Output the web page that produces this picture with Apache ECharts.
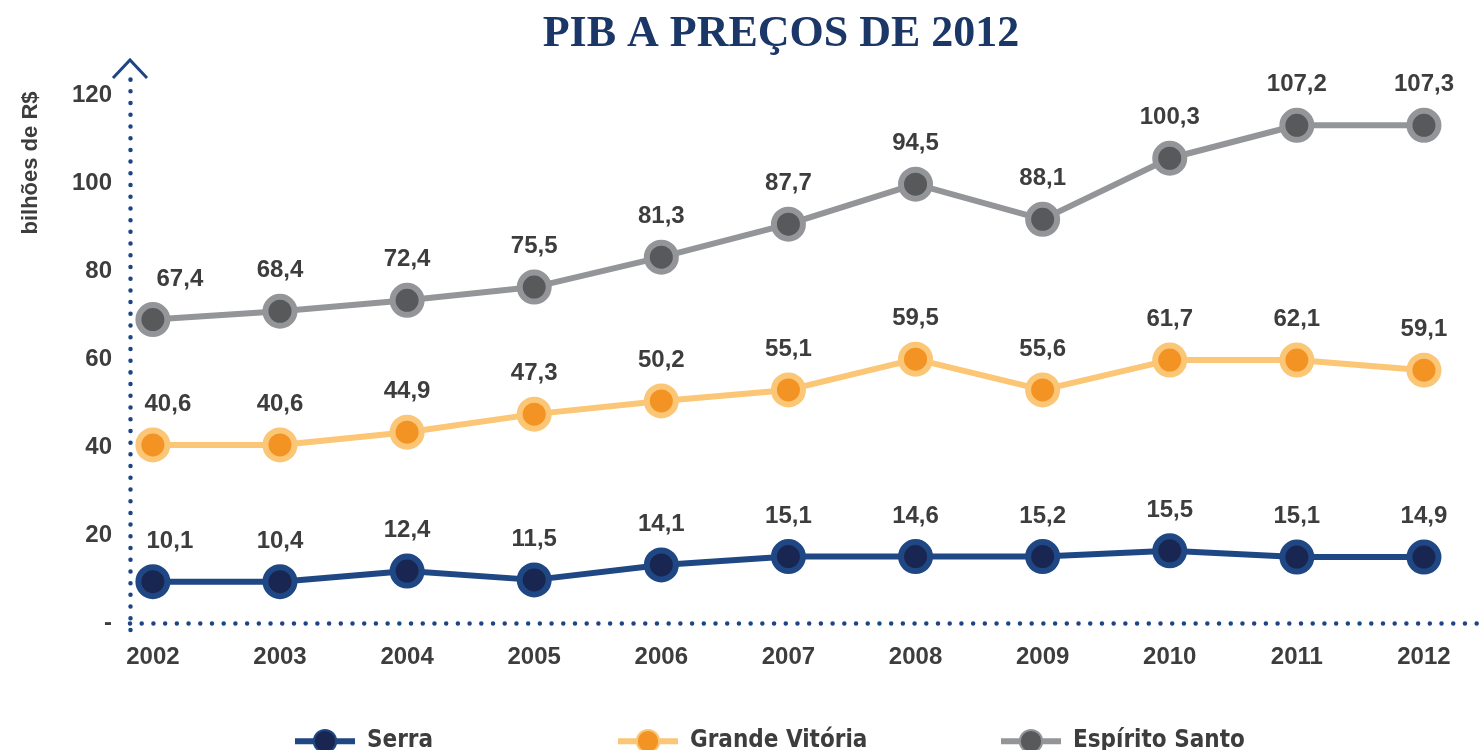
<!DOCTYPE html>
<html>
<head>
<meta charset="utf-8">
<script src="https://cdn.jsdelivr.net/npm/echarts@6/dist/echarts.min.js"></script>
<style>
  html, body { margin: 0; padding: 0; background: #fff; }
  #main { width: 1479px; height: 750px; }
</style>
</head>
<body>
<div id="main"></div>
<script>
var years = [2002, 2003, 2004, 2005, 2006, 2007, 2008, 2009, 2010, 2011, 2012];

// values printed on the labels
var serraValues = [10.1, 10.4, 12.4, 11.5, 14.1, 15.1, 14.6, 15.2, 15.5, 15.1, 14.9];
var gvValues = [40.6, 40.6, 44.9, 47.3, 50.2, 55.1, 59.5, 55.6, 61.7, 62.1, 59.1];
var esValues = [67.4, 68.4, 72.4, 75.5, 81.3, 87.7, 94.5, 88.1, 100.3, 107.2, 107.3];

// where the markers sit on the axis (they differ from the labels)
var serraPos = [9.4, 9.4, 11.8, 9.8, 13.2, 15.1, 15.1, 15.1, 16.4, 15.0, 15.0];
var gvPos = [40.5, 40.5, 43.4, 47.5, 50.5, 53.0, 60.0, 53.0, 59.8, 59.8, 57.5];
var esPos = [69.0, 70.9, 73.4, 76.4, 83.2, 90.7, 99.8, 91.8, 105.7, 113.2, 113.2];

var yTicks = [0, 20, 40, 60, 80, 100, 120];

var FONT = 'Liberation Sans';
var TXT = '#3d3d3d';
var AXIS = '#1d4585';

function fmt(v) {
    return v.toFixed(1).replace('.', ',');
}

function points(pos, firstShift) {
    var out = [];
    for (var i = 0; i < years.length; i++) {
        var d = { value: [years[i], pos[i]] };
        if (i == 0) d.label = { offset: [firstShift, 0] };
        out.push(d);
    }
    return out;
}

function lineSeries(name, pos, vals, lineColor, dotColor, shift) {
    return {
        name: name,
        type: 'line',
        data: points(pos, shift),
        symbol: 'circle',
        symbolSize: 29,
        lineStyle: { color: lineColor, width: 6 },
        itemStyle: { color: dotColor, borderColor: lineColor, borderWidth: 6 },
        emphasis: { disabled: true },
        label: {
            show: true,
            position: 'top',
            distance: 11,
            color: TXT,
            fontFamily: FONT,
            fontWeight: 'bold',
            fontSize: 24,
            formatter: function (p) { return fmt(vals[p.dataIndex]); }
        }
    };
}

var chart = echarts.init(document.getElementById('main'));

var legendBase = {
    top: 724,
    itemWidth: 60,
    itemHeight: 28,
    lineStyle: { width: 6 },
    textStyle: { color: TXT, fontFamily: 'DejaVu Sans Condensed', fontWeight: 'bold', fontSize: 24, padding: [0, 0, 0, 7] }
};

var option = {
    animation: false,
    title: {
        text: 'PIB A PREÇOS DE 2012',
        left: 776,
        textAlign: 'center',
        top: 8,
        textStyle: { color: '#1b3767', fontFamily: 'Liberation Serif', fontWeight: 'bold', fontSize: 44 }
    },
    legend: [
        Object.assign({ left: 287, data: ['Serra'] }, legendBase),
        Object.assign({ left: 610, data: ['Grande Vitória'] }, legendBase),
        Object.assign({ left: 993, data: ['Espírito Santo'] }, legendBase)
    ],
    grid: { left: 130, right: 0, top: 69, bottom: 120 },
    xAxis: {
        type: 'value',
        min: 2001.82,
        max: 2012.433,
        axisLine: { show: true, lineStyle: { color: AXIS, width: 4.5, type: [0.01, 11.7], cap: 'round' } },
        axisTick: { show: false },
        splitLine: { show: false },
        axisLabel: {
            customValues: years,
            margin: 15,
            color: TXT,
            fontFamily: FONT,
            fontWeight: 'bold',
            fontSize: 24,
            formatter: function (v) { return String(v); }
        }
    },
    yAxis: {
        type: 'value',
        min: -1.6,
        max: 126,
        axisLine: { show: true, lineStyle: { color: AXIS, width: 4.5, type: [0.01, 11.7], cap: 'round' } },
        axisTick: { show: false },
        splitLine: { show: false },
        axisLabel: {
            customValues: yTicks,
            margin: 18,
            color: TXT,
            fontFamily: FONT,
            fontWeight: 'bold',
            fontSize: 24,
            formatter: function (v) { return v == 0 ? '-' : String(v); }
        }
    },
    graphic: [
        {
            type: 'polyline',
            shape: { points: [[113, 78], [130, 60], [147, 78]] },
            style: { stroke: AXIS, lineWidth: 3, fill: null }
        },
        {
            type: 'text',
            x: 31,
            y: 163,
            rotation: Math.PI / 2,
            style: { text: 'bilhões de R$', font: 'bold 22px "Liberation Sans"', fill: TXT, align: 'center', verticalAlign: 'middle' }
        }
    ],
    series: [
        lineSeries('Serra', serraPos, serraValues, '#1f4784', '#1a2652', 17),
        lineSeries('Grande Vitória', gvPos, gvValues, '#fbc676', '#f39324', 15),
        lineSeries('Espírito Santo', esPos, esValues, '#939598', '#58595b', 27)
    ]
};

chart.setOption(option);
</script>
</body>
</html>
